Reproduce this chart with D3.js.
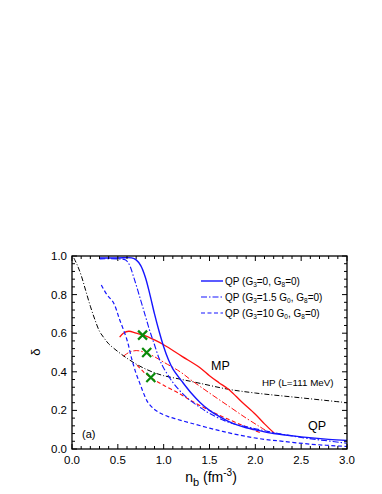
<!DOCTYPE html>
<html><head><meta charset="utf-8">
<script src="https://cdn.jsdelivr.net/npm/d3@7"></script>
<style>body{margin:0;background:#fff}svg{display:block}text{font-family:"Liberation Sans",Arial,sans-serif}</style>
</head><body><svg id="c" width="382" height="494"></svg>
<script>
// Data (n_b in fm^-3, delta)
const qpSolid = [[0.30,0.99],[0.5,0.99],[0.65,0.99],[0.70,0.98],[0.75,0.95],[0.80,0.89],[0.85,0.80],[0.90,0.70],[0.95,0.61],[1.0,0.53],[1.05,0.465],[1.1,0.415],[1.2,0.35],[1.3,0.29],[1.4,0.24],[1.5,0.20],[1.6,0.17],[1.7,0.145],[1.8,0.125],[1.9,0.11],[2.0,0.10],[2.2,0.08],[2.5,0.063],[2.8,0.05],[3.0,0.044]];
const qpDashDot = [[0.30,0.985],[0.5,0.985],[0.58,0.98],[0.62,0.96],[0.68,0.88],[0.75,0.77],[0.80,0.69],[0.85,0.61],[0.90,0.54],[0.95,0.47],[1.0,0.42],[1.1,0.345],[1.2,0.29],[1.3,0.248],[1.4,0.215],[1.5,0.185],[1.7,0.14],[2.0,0.105],[2.2,0.085],[2.5,0.06],[3.0,0.03]];
const qpDashed = [[0.32,0.85],[0.38,0.80],[0.45,0.76],[0.52,0.67],[0.60,0.565],[0.65,0.47],[0.70,0.39],[0.74,0.34],[0.78,0.29],[0.83,0.24],[0.90,0.205],[0.96,0.187],[1.05,0.168],[1.14,0.155],[1.29,0.135],[1.5,0.108],[1.7,0.085],[1.9,0.065],[2.1,0.05],[2.3,0.04],[2.6,0.025],[3.0,0.013]];
const mpSolid = [[0.52,0.58],[0.56,0.60],[0.62,0.61],[0.70,0.60],[0.78,0.59],[0.9,0.565],[1.0,0.54],[1.2,0.48],[1.4,0.42],[1.5,0.38],[1.6,0.345],[1.72,0.305],[1.85,0.245],[2.0,0.18],[2.1,0.13],[2.21,0.08]];
const mpDashDot = [[0.56,0.48],[0.62,0.50],[0.70,0.51],[0.80,0.50],[0.9,0.478],[1.0,0.45],[1.18,0.40],[1.3,0.357],[1.5,0.29],[1.7,0.225],[1.9,0.16],[2.05,0.115],[2.15,0.085]];
const mpDashed = [[0.71,0.435],[0.78,0.40],[0.86,0.37],[1.0,0.33],[1.18,0.285],[1.3,0.25],[1.5,0.20],[1.7,0.155],[1.9,0.115],[2.05,0.085]];
const hp = [[0.02,0.99],[0.06,0.95],[0.1,0.90],[0.15,0.82],[0.2,0.74],[0.25,0.67],[0.3,0.61],[0.35,0.575],[0.4,0.545],[0.5,0.505],[0.6,0.47],[0.7,0.44],[0.8,0.415],[0.9,0.395],[1.0,0.38],[1.2,0.36],[1.4,0.34],[1.7,0.31],[2.0,0.29],[2.5,0.265],[3.0,0.24]];
const crosses = [[0.77,0.59],[0.815,0.50],[0.86,0.37]];
const xTicks = [0.0,0.5,1.0,1.5,2.0,2.5,3.0];
const yTicks = [0.0,0.2,0.4,0.6,0.8,1.0];
const legendLabels = [["QP (G","3","=0, G","8","=0)"],["QP (G","3","=1.5 G","0",", G","8","=0)"],["QP (G","3","=10 G","0",", G","8","=0)"]];

const svg = d3.select("#c");
const L=72,R=347,T=256,B=449;
const x = d3.scaleLinear().domain([0,3]).range([L,R]);
const y = d3.scaleLinear().domain([0,1]).range([B,T]);
const lineC = d3.line().x(d=>x(d[0])).y(d=>y(d[1])).curve(d3.curveCatmullRom);

const blue="#1515ff", red="#ff1010";
function draw(data, color, w, dash){
  svg.append("path").attr("d",lineC(data)).attr("fill","none").attr("stroke",color)
    .attr("stroke-width",w).attr("stroke-dasharray",dash||null);
}
const DD="6,2,1.5,2", DA="4,2.5";
draw(hp,"#000",1,"5,2,1,2");
draw(mpSolid,red,1.3);
draw(mpDashDot,red,1,DD);
draw(mpDashed,red,1.1,DA);
draw(qpSolid,blue,1.4);
draw(qpDashDot,blue,1.1,DD);
draw(qpDashed,blue,1.2,DA);

// crosses
crosses.forEach(c=>{
  const cx=x(c[0]), cy=y(c[1]), s=4.5;
  svg.append("path").attr("d",`M${cx-s},${cy-s}L${cx+s},${cy+s}M${cx-s},${cy+s}L${cx+s},${cy-s}`)
    .attr("stroke","#0a8a0a").attr("stroke-width",2.2).attr("fill","none");
});

// frame
svg.append("rect").attr("x",L).attr("y",T).attr("width",R-L).attr("height",B-T)
  .attr("fill","none").attr("stroke","#000").attr("stroke-width",1.3);

// ticks
const g = svg.append("g").attr("stroke","#000").attr("stroke-width",1);
d3.range(0,3.0001,0.1).forEach(v=>{
  const major = Math.abs(v*2-Math.round(v*2))<1e-6;
  const len = major?5:3;
  g.append("line").attr("x1",x(v)).attr("x2",x(v)).attr("y1",B).attr("y2",B-len);
  g.append("line").attr("x1",x(v)).attr("x2",x(v)).attr("y1",T).attr("y2",T+len);
});
d3.range(0,1.0001,0.04).forEach(v=>{
  const major = Math.abs(v*5-Math.round(v*5))<1e-6;
  const len = major?5:3;
  g.append("line").attr("y1",y(v)).attr("y2",y(v)).attr("x1",L).attr("x2",L+len);
  g.append("line").attr("y1",y(v)).attr("y2",y(v)).attr("x1",R).attr("x2",R-len);
});
xTicks.forEach(v=>svg.append("text").attr("x",x(v)).attr("y",B+15).attr("text-anchor","middle")
  .attr("font-size",11.5).text(v.toFixed(1)));
yTicks.forEach(v=>svg.append("text").attr("x",L-5).attr("y",y(v)+4).attr("text-anchor","end")
  .attr("font-size",11.5).text(v.toFixed(1)));

// axis labels
const xl = svg.append("text").attr("x",211).attr("y",482).attr("text-anchor","middle").attr("font-size",14);
xl.append("tspan").text("n");
xl.append("tspan").attr("font-size",11).attr("dy",4).text("b");
xl.append("tspan").attr("dy",-4).text(" (fm");
xl.append("tspan").attr("font-size",10).attr("dy",-6).text("-3");
xl.append("tspan").attr("dy",6).text(")");
svg.append("text").attr("transform","translate(40,352) rotate(-90)").attr("text-anchor","middle")
  .attr("font-size",13).text("δ");

// legend
const styles=[[1.4,null],[1.1,DD],[1.2,DA]];
legendLabels.forEach((parts,i)=>{
  const yy=281+i*16;
  svg.append("line").attr("x1",201).attr("x2",223).attr("y1",yy).attr("y2",yy)
    .attr("stroke",blue).attr("stroke-width",styles[i][0]).attr("stroke-dasharray",styles[i][1]);
  const t=svg.append("text").attr("x",225).attr("y",yy+3.5).attr("font-size",10);
  parts.forEach((p,j)=>{
    if(j%2===1) t.append("tspan").attr("font-size",6.5).attr("dy",2.5).text(p);
    else t.append("tspan").attr("dy",j===0?0:-2.5).text(p);
  });
});

// annotations
svg.append("text").attr("x",211).attr("y",370).attr("font-size",12.5).text("MP");
svg.append("text").attr("x",262).attr("y",386).attr("font-size",9.8).text("HP (L=111 MeV)");
svg.append("text").attr("x",308).attr("y",430).attr("font-size",12.5).text("QP");
svg.append("text").attr("x",82).attr("y",438).attr("font-size",11).text("(a)");
</script></body></html>
